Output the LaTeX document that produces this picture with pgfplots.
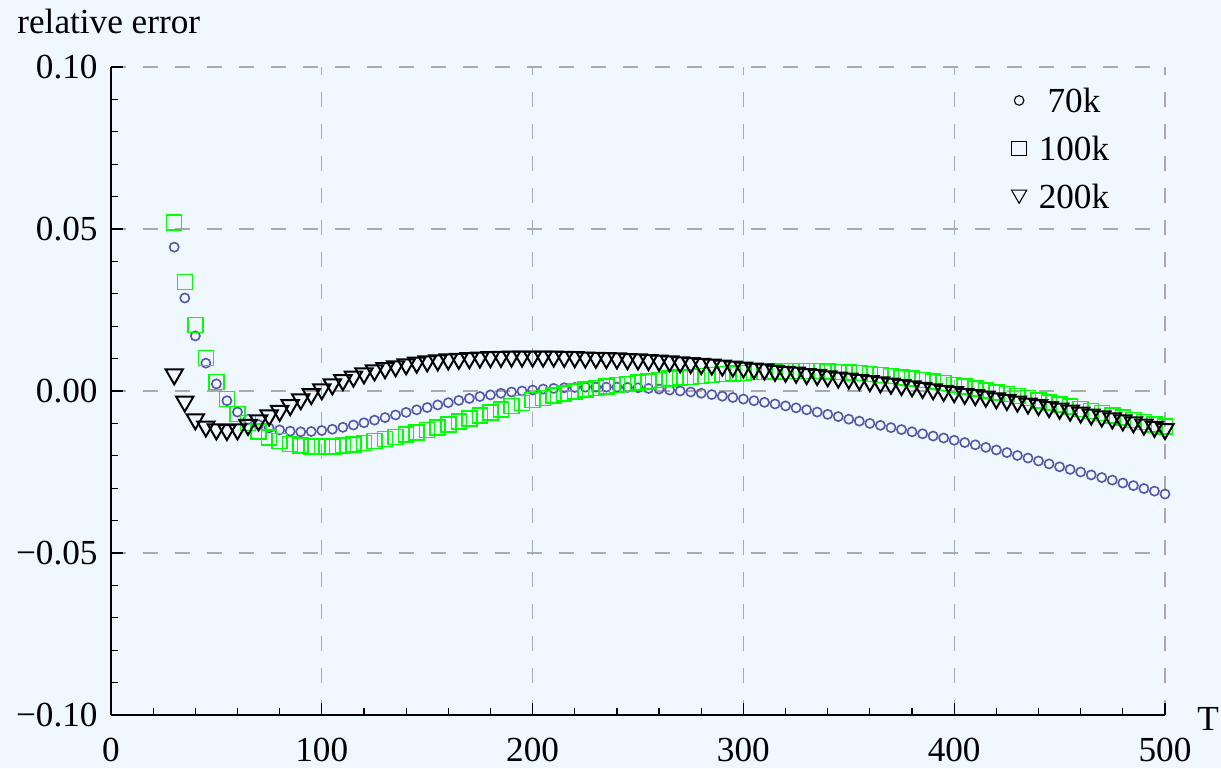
\documentclass[border=0pt]{standalone}
\usepackage{fontspec}
\setmainfont{Liberation Serif}
\usepackage{pgfplots}
\usepackage{pgfplotstable}
\pgfplotsset{compat=1.18}
\definecolor{bg}{RGB}{240,248,255}
\definecolor{cblue}{RGB}{85,85,170}
\definecolor{sgreen}{RGB}{0,255,0}
\definecolor{gridc}{RGB}{170,170,170}
\newcommand\bigf{\fontsize{17.6pt}{20pt}\selectfont}

\pgfplotstableread{
x c s v
30 0.0444 0.0520 0.0044
35 0.0287 0.0336 -0.0040
40 0.0170 0.0204 -0.0095
45 0.0086 0.0102 -0.0117
50 0.0022 0.0028 -0.0126
55 -0.0030 -0.0025 -0.0128
60 -0.0065 -0.0071 -0.0126
65 -0.0088 -0.0099 -0.0112
70 -0.0104 -0.0125 -0.0098
75 -0.0114 -0.0143 -0.0083
80 -0.0120 -0.0155 -0.0069
85 -0.0124 -0.0163 -0.0051
90 -0.0126 -0.0168 -0.0033
95 -0.0125 -0.0171 -0.0017
100 -0.0122 -0.0172 -0.0002
105 -0.0118 -0.0171 0.0013
110 -0.0112 -0.0168 0.0026
115 -0.0105 -0.0165 0.0037
120 -0.0098 -0.0160 0.0047
125 -0.0090 -0.0154 0.0056
130 -0.0082 -0.0148 0.0063
135 -0.0074 -0.0142 0.0069
140 -0.0066 -0.0135 0.0075
145 -0.0058 -0.0128 0.0080
150 -0.0051 -0.0120 0.0084
155 -0.0043 -0.0112 0.0087
160 -0.0036 -0.0103 0.0090
165 -0.0029 -0.0094 0.0092
170 -0.0023 -0.0085 0.0094
175 -0.0017 -0.0076 0.0096
180 -0.0012 -0.0066 0.0097
185 -0.0007 -0.0057 0.0098
190 -0.0003 -0.0047 0.0099
195 0.0000 -0.0037 0.0099
200 0.0003 -0.0028 0.0099
205 0.0006 -0.0021 0.0099
210 0.0008 -0.0014 0.0099
215 0.0010 -0.0008 0.0098
220 0.0011 -0.0002 0.0097
225 0.0012 0.0004 0.0096
230 0.0012 0.0009 0.0095
235 0.0012 0.0014 0.0094
240 0.0012 0.0018 0.0093
245 0.0011 0.0022 0.0091
250 0.0010 0.0026 0.0090
255 0.0008 0.0030 0.0088
260 0.0006 0.0034 0.0086
265 0.0003 0.0038 0.0084
270 0.0000 0.0041 0.0081
275 -0.0003 0.0044 0.0079
280 -0.0007 0.0047 0.0076
285 -0.0011 0.0050 0.0074
290 -0.0016 0.0052 0.0071
295 -0.0020 0.0054 0.0068
300 -0.0025 0.0056 0.0065
305 -0.0030 0.0058 0.0062
310 -0.0035 0.0059 0.0059
315 -0.0040 0.0060 0.0055
320 -0.0046 0.0061 0.0052
325 -0.0052 0.0061 0.0049
330 -0.0058 0.0061 0.0045
335 -0.0065 0.0061 0.0042
340 -0.0072 0.0060 0.0038
345 -0.0079 0.0059 0.0034
350 -0.0087 0.0057 0.0031
355 -0.0093 0.0055 0.0027
360 -0.0100 0.0052 0.0023
365 -0.0106 0.0049 0.0019
370 -0.0113 0.0046 0.0015
375 -0.0119 0.0042 0.0011
380 -0.0126 0.0038 0.0007
385 -0.0132 0.0034 0.0002
390 -0.0139 0.0029 -0.0002
395 -0.0145 0.0024 -0.0007
400 -0.0152 0.0019 -0.0011
405 -0.0159 0.0014 -0.0016
410 -0.0166 0.0008 -0.0020
415 -0.0174 0.0002 -0.0025
420 -0.0182 -0.0004 -0.0030
425 -0.0190 -0.0010 -0.0035
430 -0.0199 -0.0016 -0.0040
435 -0.0207 -0.0022 -0.0046
440 -0.0216 -0.0029 -0.0051
445 -0.0225 -0.0035 -0.0057
450 -0.0234 -0.0042 -0.0062
455 -0.0242 -0.0048 -0.0068
460 -0.0250 -0.0055 -0.0074
465 -0.0259 -0.0061 -0.0080
470 -0.0267 -0.0068 -0.0086
475 -0.0275 -0.0075 -0.0092
480 -0.0284 -0.0082 -0.0098
485 -0.0292 -0.0089 -0.0104
490 -0.0301 -0.0096 -0.0111
495 -0.0309 -0.0103 -0.0118
500 -0.0318 -0.0110 -0.0125
}\datatable

\begin{document}
\begin{tikzpicture}
\path[use as bounding box, fill=bg] (-55.5pt,-26.5pt) rectangle (555pt,357.5pt);
\begin{axis}[name=ax, at={(0pt,0pt)}, anchor=south west,
  scale only axis, width=527pt, height=324pt,
  xmin=0, xmax=500, ymin=-0.1, ymax=0.1,
  axis x line*=bottom, axis y line*=left,
  axis line style={line width=0.8pt, black},
  xtick={0,100,200,300,400,500}, xticklabels={0,100,200,300,400,500},
  ytick={-0.1,-0.05,0,0.05,0.1}, yticklabels={−0.10,−0.05,0.00,0.05,0.10},
  scaled x ticks=false, scaled y ticks=false,
  minor x tick num=4, minor y tick num=4,
  tick align=inside,
  major tick length=6pt, minor tick length=3.5pt,
  every tick/.style={black, line width=0.6pt},
  grid=major,
  major grid style={gridc, line width=0.6pt, dash pattern=on 7.5pt off 8.5pt},
  xticklabel style={font=\bigf, anchor=north, inner sep=0pt, yshift=-11.5pt},
  yticklabel style={font=\bigf, anchor=east, inner sep=0pt, xshift=-6.5pt},
  legend image code/.code={\draw[mark repeat=2,mark phase=2,#1] plot coordinates {(0pt,0pt)(8pt,0pt)(16pt,0pt)};},
  legend cell align=center,
  legend style={draw=none, fill=none, inner sep=0pt, font=\bigf,
    at={(axis cs:427,0.0935)}, anchor=north west, row sep=12pt, column sep=6pt,
    nodes={inner sep=0pt, text height=12pt, text depth=0pt}},
]
\addlegendimage{only marks, mark=o, black, mark size=2.4pt, line width=0.55pt}
\addlegendentry{70k}
\addlegendimage{only marks, mark=square, black, mark size=3.6pt, line width=0.55pt}
\addlegendentry{100k}
\addlegendimage{only marks, mark=triangle, black, mark size=4.4pt, line width=0.55pt, mark options={yshift=1pt, rotate=180}}
\addlegendentry{200k}

\addplot[forget plot, only marks, mark=o, cblue, mark size=2.3pt, line width=0.8pt] table[x=x, y=c] {\datatable};
\addplot[forget plot, only marks, mark=square, sgreen, mark size=3.75pt, line width=0.75pt] table[x=x, y=s] {\datatable};
\addplot[forget plot, only marks, mark=triangle, black, mark size=5pt, line width=1pt, mark options={yshift=1.2pt, rotate=180}] table[x=x, y=v] {\datatable};
\end{axis}
\node[anchor=base west, inner sep=0pt, font=\bigf] at ([xshift=-47pt,yshift=17pt]ax.north west) {relative error};
\node[anchor=base west, inner sep=0pt, font=\bigf] at ([xshift=16pt,yshift=-7.5pt]ax.south east) {T};
\end{tikzpicture}
\end{document}
